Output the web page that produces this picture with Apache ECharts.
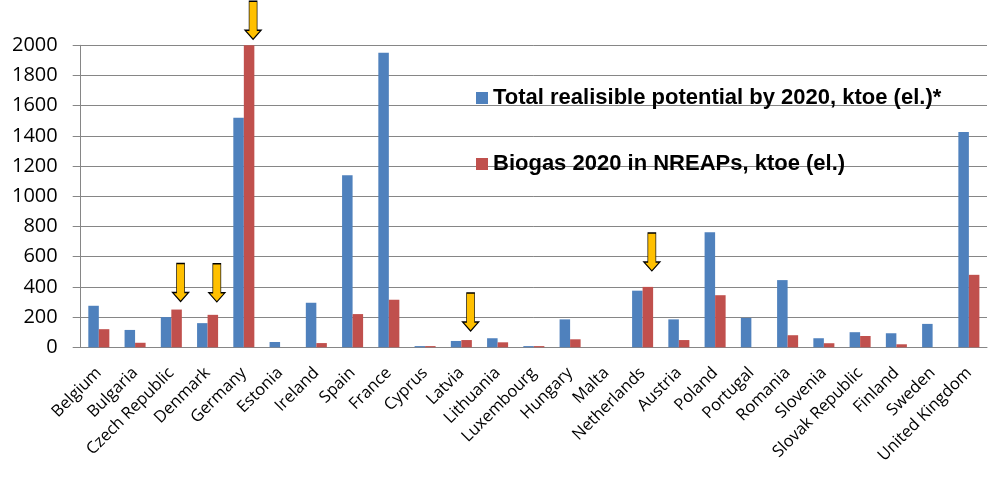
<!DOCTYPE html>
<html><head><meta charset="utf-8">
<script src="https://cdn.jsdelivr.net/npm/echarts@6/dist/echarts.min.js"></script>
<style>html,body{margin:0;padding:0;background:#fff}#c{width:1004px;height:482px}</style>
</head><body><div id="c"></div>
<script>
const categories = ['Belgium','Bulgaria','Czech Republic','Denmark','Germany','Estonia','Ireland','Spain','France','Cyprus','Latvia','Lithuania','Luxembourg','Hungary','Malta','Netherlands','Austria','Poland','Portugal','Romania','Slovenia','Slovak Republic','Finland','Sweden','United Kingdom'];
const potential = [275,115,200,160,1520,35,295,1140,1950,8,42,60,8,185,0,375,185,762,195,445,60,100,93,155,1425];
const nreap = [120,30,250,215,2000,0,28,220,315,8,48,33,8,53,0,400,48,345,0,80,27,75,20,0,480];
const seriesNames = ['Total realisible potential by 2020, ktoe (el.)*','Biogas 2020 in NREAPs, ktoe (el.)'];
const yTicks = {min:0, max:2000, interval:200};
const arrowCats = ['Czech Republic','Denmark','Germany','Latvia','Netherlands'];
const arrowGaps = [8,13,6,9,16];

const arrowPath = 'path://M4,0 L12,0 L12,29 L16,29 L8,38 L0,29 L4,29 Z';
const chart = echarts.init(document.getElementById('c'), null, {renderer:'canvas'});
const gray = '#868686';
chart.setOption({
  animation:false,
  backgroundColor:'#fff',
  grid:{left:80.7, right:17, top:45.3, bottom:134.7, containLabel:false},
  legend:{
    orient:'vertical', left:471, top:82, itemGap:44, itemWidth:12, itemHeight:12,
    icon:'rect',
    textStyle:{fontFamily:'Liberation Sans', fontWeight:'bold', fontSize:22, color:'#000'},
    data:seriesNames
  },
  xAxis:{
    type:'category', data:categories,
    axisLine:{lineStyle:{color:gray, width:1}},
    axisTick:{length:6, lineStyle:{color:gray}},
    axisLabel:{rotate:45, margin:23, interval:0, color:'#000', fontFamily:'Open Sans', fontSize:16.5}
  },
  yAxis:{
    type:'value', min:yTicks.min, max:yTicks.max, interval:yTicks.interval,
    axisLine:{show:true, lineStyle:{color:gray}},
    axisTick:{show:true, length:8, lineStyle:{color:gray}},
    splitLine:{lineStyle:{color:gray, width:1}},
    axisLabel:{margin:23, color:'#000', fontFamily:'Open Sans', fontSize:20, formatter:v=>String(v)}
  },
  series:[
    {name:seriesNames[0], type:'bar', data:potential, barGap:0, barCategoryGap:'42%', itemStyle:{color:'#4F81BD'}},
    {name:seriesNames[1], type:'bar', data:nreap, barGap:0, barCategoryGap:'42%', itemStyle:{color:'#C0504D'},
     markPoint:{
       symbol:arrowPath, symbolSize:[16,38],
       itemStyle:{color:'#FFC000', borderColor:'#000', borderWidth:1},
       label:{show:false},
       data: arrowCats.map((c,i)=>({coord:[c, nreap[categories.indexOf(c)]], symbolOffset:[4, -(19+arrowGaps[i])]}))
     }}
  ]
});
</script></body></html>
